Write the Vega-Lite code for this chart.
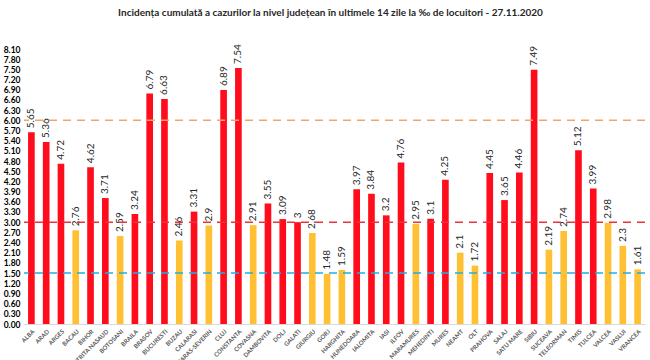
{
  "$schema": "https://vega.github.io/schema/vega-lite/v6.json",
  "autosize": {"type": "none"},
  "width": 621,
  "height": 275,
  "padding": {"left": 24, "top": 49, "right": 5, "bottom": 36},
  "background": "white",
  "title": {
    "text": "Incidența cumulată a cazurilor la nivel județean în ultimele 14 zile la ‰ de locuitori - 27.11.2020",
    "font": "Lato",
    "fontSize": 10,
    "fontWeight": "bold",
    "color": "#262626",
    "offset": 26,
    "anchor": "middle",
    "dx": -4
  },
  "config": {
    "view": {"stroke": null},
    "font": "Lato",
    "axisY": {"labelOverlap": false, "labelBound": false, "labelFlush": false}
  },
  "data": {
    "values": [
      {"judet": "ALBA", "value": 5.65},
      {"judet": "ARAD", "value": 5.36},
      {"judet": "ARGES", "value": 4.72},
      {"judet": "BACAU", "value": 2.76},
      {"judet": "BIHOR", "value": 4.62},
      {"judet": "BISTRITA NASAUD", "value": 3.71},
      {"judet": "BOTOSANI", "value": 2.59},
      {"judet": "BRAILA", "value": 3.24},
      {"judet": "BRASOV", "value": 6.79},
      {"judet": "BUCURESTI", "value": 6.63},
      {"judet": "BUZAU", "value": 2.46},
      {"judet": "CALARASI", "value": 3.31},
      {"judet": "CARAS-SEVERIN", "value": 2.9},
      {"judet": "CLUJ", "value": 6.89},
      {"judet": "CONSTANTA", "value": 7.54},
      {"judet": "COVASNA", "value": 2.91},
      {"judet": "DAMBOVITA", "value": 3.55},
      {"judet": "DOLJ", "value": 3.09},
      {"judet": "GALATI", "value": 3},
      {"judet": "GIURGIU", "value": 2.68},
      {"judet": "GORJ", "value": 1.48},
      {"judet": "HARGHITA", "value": 1.59},
      {"judet": "HUNEDOARA", "value": 3.97},
      {"judet": "IALOMITA", "value": 3.84},
      {"judet": "IASI", "value": 3.2},
      {"judet": "ILFOV", "value": 4.76},
      {"judet": "MARAMURES", "value": 2.95},
      {"judet": "MEHEDINTI", "value": 3.1},
      {"judet": "MURES", "value": 4.25},
      {"judet": "NEAMT", "value": 2.1},
      {"judet": "OLT", "value": 1.72},
      {"judet": "PRAHOVA", "value": 4.45},
      {"judet": "SALAJ", "value": 3.65},
      {"judet": "SATU MARE", "value": 4.46},
      {"judet": "SIBIU", "value": 7.49},
      {"judet": "SUCEAVA", "value": 2.19},
      {"judet": "TELEORMAN", "value": 2.74},
      {"judet": "TIMIS", "value": 5.12},
      {"judet": "TULCEA", "value": 3.99},
      {"judet": "VALCEA", "value": 2.98},
      {"judet": "VASLUI", "value": 2.3},
      {"judet": "VRANCEA", "value": 1.61}
    ]
  },
  "encoding": {
    "y": {
      "type": "quantitative",
      "scale": {"domain": [0, 8.1], "nice": false},
      "axis": {
        "title": null,
        "values": [0, 0.3, 0.6, 0.9, 1.2, 1.5, 1.8, 2.1, 2.4, 2.7, 3, 3.3, 3.6, 3.9, 4.2, 4.5, 4.8, 5.1, 5.4, 5.7, 6, 6.3, 6.6, 6.9, 7.2, 7.5, 7.8, 8.1],
        "format": ".2f",
        "grid": false,
        "domain": false,
        "ticks": false,
        "labelPadding": 4,
        "labelOverlap": false,
        "labelFontSize": 8.5,
        "labelFontWeight": "bold",
        "labelColor": "#000000"
      }
    }
  },
  "layer": [
    {
      "mark": {"type": "bar"},
      "encoding": {
        "x": {
          "field": "judet",
          "type": "nominal",
          "sort": null,
          "scale": {"paddingInner": 0.55, "paddingOuter": 0.275},
          "axis": {
            "title": null,
            "labelAngle": -45,
            "labelFontSize": 6,
            "labelFontWeight": "bold",
            "labelColor": "#595959",
            "ticks": false,
            "labelPadding": 4,
            "domainColor": "#d9d9d9",
            "labelOverlap": false
          }
        },
        "y": {"field": "value", "type": "quantitative"},
        "color": {
          "condition": {"test": "datum.value >= 3", "value": "#FF0D1D"},
          "value": "#FFC133"
        }
      }
    },
    {
      "mark": {"type": "text", "angle": -90, "align": "left", "baseline": "middle", "dx": 4, "fontSize": 10, "color": "#262626"},
      "encoding": {
        "x": {"field": "judet", "type": "nominal", "sort": null},
        "y": {"field": "value", "type": "quantitative"},
        "text": {"field": "value", "type": "quantitative"}
      }
    },
    {
      "data": {"values": [{"prag": 6, "c": "orange"}, {"prag": 3, "c": "red"}, {"prag": 1.5, "c": "blue"}]},
      "mark": {"type": "rule", "strokeDash": [8, 6], "strokeWidth": 1.5},
      "encoding": {
        "y": {"field": "prag", "type": "quantitative"},
        "color": {
          "field": "c",
          "type": "nominal",
          "scale": {"domain": ["orange", "red", "blue"], "range": ["#F5A36C", "#E8343C", "#1FB0E6"]},
          "legend": null
        }
      }
    }
  ]
}
